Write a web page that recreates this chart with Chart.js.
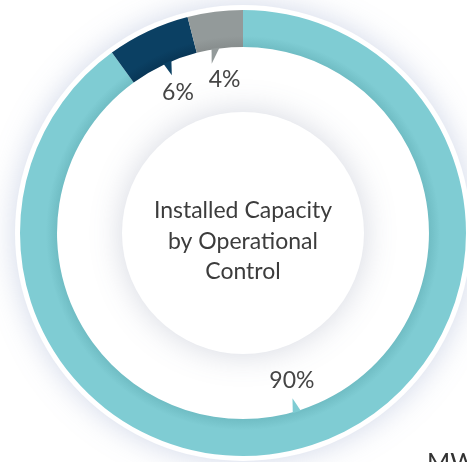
<!DOCTYPE html>
<html>
<head>
<meta charset="utf-8">
<script src="https://cdn.jsdelivr.net/npm/chart.js@4/dist/chart.umd.min.js"></script>
<style>
  html, body { margin: 0; padding: 0; background: #ffffff; }
  #wrap { width: 467px; height: 462px; position: relative; }
</style>
</head>
<body>
<div id="wrap"><canvas id="c"></canvas></div>
<script>
// ---- data ----
const categories = ['Operational control', 'Joint control', 'Other'];
const values = [90, 6, 4];
const valueLabels = ['90%', '6%', '4%'];
const centerLines = ['Installed Capacity', 'by Operational', 'Control'];
const unitText = 'MW';

// ---- styles ----
const baseColors = ['#7fccd3', '#0b4063', '#939a9a'];
const innerColors = ['#70bdc4', '#083656', '#878d8d'];
const tailSide = [-1, 1, -1];
const CUTOUT = 0.834;

function ringFill(ctx) {
  const chart = ctx.chart;
  const a = chart.chartArea;
  const i = ctx.dataIndex;
  if (!a || i === undefined) return baseColors[i || 0];
  const cx = (a.left + a.right) / 2, cy = (a.top + a.bottom) / 2;
  const R = Math.min(a.right - a.left, a.bottom - a.top) / 2;
  const r = R * CUTOUT;
  const g = chart.ctx.createRadialGradient(cx, cy, r, cx, cy, R);
  g.addColorStop(0, innerColors[i]);
  g.addColorStop(0.3, baseColors[i]);
  g.addColorStop(1, baseColors[i]);
  return g;
}

const decor = {
  id: 'decor',
  beforeDatasetsDraw(chart) {
    const ctx = chart.ctx;
    const el = chart.getDatasetMeta(0).data[0];
    const p = el.getProps(['x', 'y', 'outerRadius'], true);
    ctx.save();
    ctx.beginPath();
    ctx.arc(p.x, p.y, p.outerRadius + 5, 0, Math.PI * 2);
    ctx.fillStyle = '#ffffff';
    ctx.shadowColor = 'rgba(120,140,190,0.35)';
    ctx.shadowBlur = 30;
    ctx.fill();
    ctx.restore();
  },
  afterDatasetsDraw(chart) {
    const ctx = chart.ctx;
    const meta = chart.getDatasetMeta(0);
    const p0 = meta.data[0].getProps(['x', 'y', 'innerRadius', 'outerRadius'], true);
    const cx = p0.x, cy = p0.y, rin = p0.innerRadius;

    // inner white disc with soft shadow
    ctx.save();
    ctx.beginPath();
    ctx.arc(cx, cy, 121, 0, Math.PI * 2);
    ctx.fillStyle = '#ffffff';
    ctx.shadowColor = 'rgba(90,100,135,0.26)';
    ctx.shadowBlur = 32;
    ctx.fill();
    ctx.restore();

    // tails and labels
    meta.data.forEach((el, i) => {
      const q = el.getProps(['startAngle', 'endAngle'], true);
      const mid = (q.startAngle + q.endAngle) / 2;
      const mx = cx + rin * Math.cos(mid);
      const my = cy + rin * Math.sin(mid);
      const sgn = my < cy ? -1 : 1;
      const bx = mx + tailSide[i] * 8;
      const by = cy + sgn * Math.sqrt(Math.max(rin * rin - (bx - cx) * (bx - cx), 0));
      const ax = bx, ay = by - sgn * 14;
      ctx.save();
      ctx.beginPath();
      ctx.moveTo(mx + Math.cos(mid), my + Math.sin(mid));
      ctx.lineTo(bx + Math.cos(mid), by + Math.sin(mid));
      ctx.lineTo(ax, ay);
      ctx.closePath();
      ctx.fillStyle = baseColors[i];
      ctx.fill();
      ctx.restore();

      const lr = 155;
      ctx.save();
      ctx.font = '23px Lato';
      ctx.fillStyle = '#454545';
      ctx.textAlign = 'center';
      ctx.textBaseline = 'middle';
      ctx.fillText(valueLabels[i], cx + lr * Math.cos(mid) + 1, cy + lr * Math.sin(mid));
      ctx.restore();
    });

    // center text
    ctx.save();
    ctx.font = '23px Lato';
    ctx.fillStyle = '#3c3c3c';
    ctx.textAlign = 'center';
    ctx.textBaseline = 'alphabetic';
    const lh = 30.5;
    centerLines.forEach((t, k) => {
      ctx.fillText(t, cx, cy - 15 + k * lh);
    });
    // unit text at bottom right
    ctx.font = '25px Lato';
    ctx.textAlign = 'left';
    ctx.fillStyle = '#333333';
    ctx.fillText(unitText, 427, 471);
    ctx.restore();
  }
};

new Chart(document.getElementById('c'), {
  type: 'doughnut',
  data: {
    labels: categories,
    datasets: [{
      data: values,
      backgroundColor: ringFill,
      hoverBackgroundColor: ringFill,
      borderWidth: 0
    }]
  },
  options: {
    responsive: true,
    maintainAspectRatio: false,
    animation: false,
    cutout: (CUTOUT * 100) + '%',
    layout: { padding: { left: 20, right: 1, top: 10, bottom: 6 } },
    plugins: { legend: { display: false }, tooltip: { enabled: false } },
    events: []
  },
  plugins: [decor]
});
</script>
</body>
</html>
